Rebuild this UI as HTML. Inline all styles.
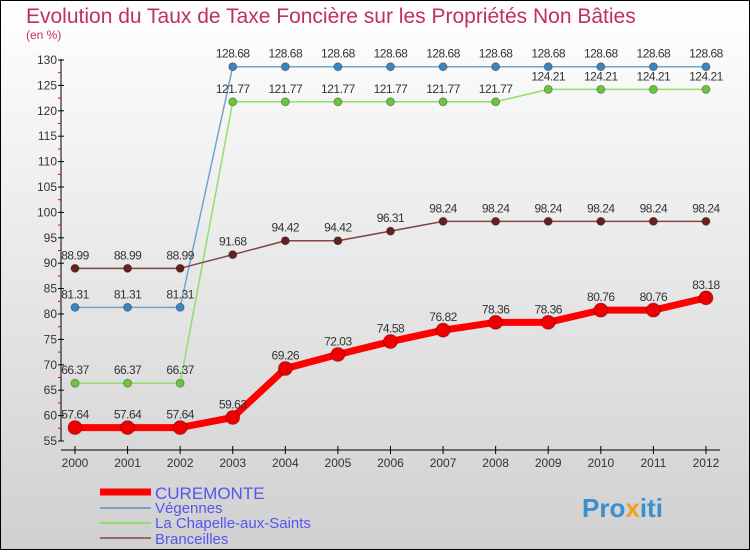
<!DOCTYPE html>
<html><head><meta charset="utf-8"><style>
body{margin:0;width:750px;height:550px;overflow:hidden;font-family:"Liberation Sans",sans-serif}
</style></head><body>
<svg width="750" height="550" xmlns="http://www.w3.org/2000/svg">
<defs><linearGradient id="bg" x1="0" y1="0" x2="0" y2="1"><stop offset="0" stop-color="#ffffff"/><stop offset="1" stop-color="#d0d0d0"/></linearGradient></defs>
<rect x="0.5" y="0.5" width="749" height="549" fill="url(#bg)" stroke="#000"/>
<text x="26" y="23" font-size="21" fill="#c0305a">Evolution du Taux de Taxe Foncière sur les Propriétés Non Bâties</text>
<text x="26" y="39" font-size="12" fill="#c0305a">(en %)</text>
<g id="axes"></g><g id="series"></g>
<g>
<line x1="100" y1="492" x2="151" y2="492" stroke="#f00" stroke-width="7"/>
<text x="155" y="499" font-size="17" fill="#5555ee">CUREMONTE</text>
<line x1="100" y1="508" x2="151" y2="508" stroke="#6ea6cf" stroke-width="2"/>
<text x="155" y="513" font-size="15" fill="#5555ee">Végennes</text>
<line x1="100" y1="523" x2="151" y2="523" stroke="#90dd70" stroke-width="2"/>
<text x="155" y="528" font-size="15" fill="#5555ee">La Chapelle-aux-Saints</text>
<line x1="100" y1="538" x2="151" y2="538" stroke="#996666" stroke-width="2"/>
<text x="155" y="544" font-size="15" fill="#5555ee">Branceilles</text>
</g>
<g><text x="582" y="517" font-size="26" font-weight="bold" fill="#3a8fd0">Pro<tspan fill="#f0a020">x</tspan>iti</text></g>
</svg>
<script>
const years=[2000,2001,2002,2003,2004,2005,2006,2007,2008,2009,2010,2011,2012];
const yTicks=[55,60,65,70,75,80,85,90,95,100,105,110,115,120,125,130];
const cure=[57.64,57.64,57.64,59.63,69.26,72.03,74.58,76.82,78.36,78.36,80.76,80.76,83.18];
const veg=[81.31,81.31,81.31,128.68,128.68,128.68,128.68,128.68,128.68,128.68,128.68,128.68,128.68];
const chap=[66.37,66.37,66.37,121.77,121.77,121.77,121.77,121.77,121.77,124.21,124.21,124.21,124.21];
const bran=[88.99,88.99,88.99,91.68,94.42,94.42,96.31,98.24,98.24,98.24,98.24,98.24,98.24];
const NS="http://www.w3.org/2000/svg";
const xs=i=>75+i*52.58;
const ys=v=>441-(v-55)*(381/75);
function mk(t,a,p){const e=document.createElementNS(NS,t);for(const k in a)e.setAttribute(k,a[k]);p.appendChild(e);return e;}
const ax=document.getElementById('axes'),sg=document.getElementById('series');
let l=mk('line',{x1:61,y1:59,x2:61,y2:441,stroke:'#000'},ax);


l=mk('line',{x1:61,y1:450,x2:720,y2:450,stroke:'#000'},ax);


yTicks.forEach((v,i)=>{
 mk('line',{x1:58,y1:ys(v),x2:64,y2:ys(v),stroke:'#000'},ax);
 if(i<yTicks.length-1)mk('line',{x1:58,y1:ys(v+2.5),x2:61,y2:ys(v+2.5),stroke:'#e00'},ax);
 const t=mk('text',{x:57,y:ys(v)+4,'font-size':12,'text-anchor':'end',fill:'#333'},ax);t.textContent=v;
 
 
});
years.forEach((y,i)=>{
 mk('line',{x1:xs(i),y1:446,x2:xs(i),y2:454,stroke:'#000'},ax);
 const t=mk('text',{x:xs(i),y:467,'font-size':12,'text-anchor':'middle',fill:'#333'},ax);t.textContent=y;
 
 
});
function series(d,col,dot,w,r,name){
 const g=mk('g',{},sg);
 
 
 mk('polyline',{points:d.map((v,i)=>xs(i)+','+ys(v)).join(' '),fill:'none',stroke:col,'stroke-width':w,'stroke-linejoin':'round'},g);
 d.forEach((v,i)=>{
  const c=mk('circle',{cx:xs(i),cy:ys(v),r:r,fill:dot,stroke:'rgba(0,0,0,0.3)','stroke-width':1},g);
  
  
  const t=mk('text',{x:xs(i),y:ys(v)-9,'font-size':12,'text-anchor':'middle',fill:'#333','letter-spacing':'-0.5'},g);
  t.textContent=v.toFixed(2);
 });
}
series(veg,'#6ea6cf','#3a85c0',1.5,4,'vegennes');
series(chap,'#90dd70','#6cc53a',1.5,4,'chapelle');
series(bran,'#884444','#662020',1.5,4,'branceilles');
series(cure,'#f00','#e00',7,7,'curemonte');
</script>
</body></html>
